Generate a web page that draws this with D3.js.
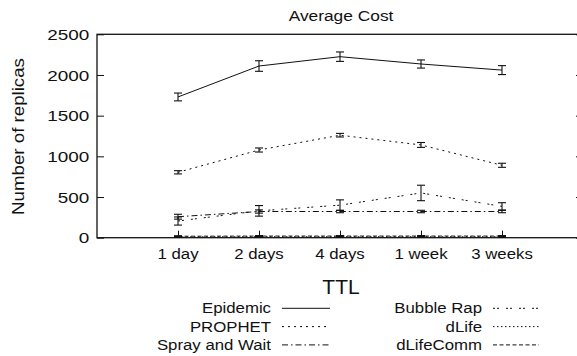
<!DOCTYPE html>
<html>
<head>
<meta charset="utf-8">
<script src="https://cdn.jsdelivr.net/npm/d3@7"></script>
<style>
  html, body { margin: 0; padding: 0; background: #fff; }
  svg { display: block; }
  text { font-family: "Liberation Sans", Arial, Helvetica, sans-serif; fill: #111; }
</style>
</head>
<body>
<svg id="chart" width="577" height="356"></svg>
<script>
// Categories (TTL) and y ticks
const ttl = ["1 day", "2 days", "4 days", "1 week", "3 weeks"];
const yTicks = [0, 500, 1000, 1500, 2000, 2500];

// Mean number of replicas per protocol
const epidemic     = [1730, 2110, 2225, 2135, 2060];
const prophet      = [804, 1078, 1260, 1140, 890];
const sprayAndWait = [258, 322, 322, 322, 322];
const bubbleRap    = [205, 330, 400, 550, 385];
const dLife        = [10, 12, 12, 12, 12];
const dLifeComm    = [18, 20, 20, 20, 20];

// Half-widths of the error bars
const epidemicErr     = [48, 65, 58, 50, 55];
const prophetErr      = [20, 25, 22, 30, 25];
const sprayAndWaitErr = [30, 20, 15, 15, 15];
const bubbleRapErr    = [50, 65, 65, 95, 45];
const dLifeErr        = [5, 5, 5, 5, 5];
const dLifeCommErr    = [6, 6, 6, 6, 6];

const series = [
  { name: "Epidemic",       values: epidemic,     err: epidemicErr,     dash: null },
  { name: "PROPHET",        values: prophet,      err: prophetErr,      dash: "2,4" },
  { name: "Spray and Wait", values: sprayAndWait, err: sprayAndWaitErr, dash: "6,3,1.5,3" },
  { name: "Bubble Rap",     values: bubbleRap,    err: bubbleRapErr,    dash: "2,2,2,7" },
  { name: "dLife",          values: dLife,        err: dLifeErr,        dash: "1.5,2.5" },
  { name: "dLifeComm",      values: dLifeComm,    err: dLifeCommErr,    dash: "4,2.5" }
];

const svg = d3.select("#chart");
const plotL = 97, plotR = 583, plotT = 34.3, plotB = 237.7;

const x = d3.scalePoint().domain(ttl).range([plotL, plotR]).padding(1);
const y = d3.scaleLinear().domain([0, 2500]).range([plotB, plotT]);

// Text with a horizontal glyph stretch (wide sans face)
function stretchedText(g, tx, ty, str, size, anchor, sx, rot) {
  return g.append("text")
    .attr("transform", `translate(${tx},${ty})` + (rot ? ` rotate(${rot})` : "") + ` scale(${sx},1)`)
    .attr("text-anchor", anchor)
    .style("font-size", size + "px")
    .text(str);
}

// Frame
svg.append("rect")
  .attr("x", plotL).attr("y", plotT)
  .attr("width", plotR - plotL).attr("height", plotB - plotT)
  .attr("fill", "none").attr("stroke", "#111").attr("stroke-width", 1.3);

// Y axis (left, inward ticks) and mirrored ticks on the right
const gy = svg.append("g").attr("transform", `translate(${plotL},0)`)
  .call(d3.axisLeft(y).tickValues(yTicks).tickSize(-7).tickFormat(""));
gy.select(".domain").remove();
gy.selectAll(".tick line").attr("stroke", "#111");
const gyr = svg.append("g").attr("transform", `translate(${plotR},0)`)
  .call(d3.axisRight(y).tickValues(yTicks).tickSize(-7).tickFormat(""));
gyr.select(".domain").remove();
gyr.selectAll(".tick line").attr("stroke", "#111");

yTicks.forEach(v => stretchedText(svg, 89.3, y(v) + 5.6, String(v), 15, "end", 1.26));

// X axis (bottom, inward ticks)
const gx = svg.append("g").attr("transform", `translate(0,${plotB})`)
  .call(d3.axisBottom(x).tickSize(-7).tickFormat(""));
gx.select(".domain").remove();
gx.selectAll(".tick line").attr("stroke", "#111");
ttl.forEach(c => stretchedText(svg, x(c), 258.5, c, 15, "middle", 1.12));

// Titles
stretchedText(svg, 341, 20.5, "Average Cost", 15.5, "middle", 1.12);
stretchedText(svg, 24, 136.5, "Number of replicas", 17, "middle", 1.1, -90);
svg.append("text").attr("x", 341).attr("y", 294).attr("text-anchor", "middle")
  .style("font-size", "21px").text("TTL");

// Lines and error bars
const line = d3.line().x((d, i) => x(ttl[i])).y(d => y(d));
series.forEach(s => {
  svg.append("path")
    .attr("d", line(s.values))
    .attr("fill", "none").attr("stroke", "#111").attr("stroke-width", 1)
    .attr("stroke-dasharray", s.dash);
  const eb = svg.append("g").attr("stroke", "#111").attr("stroke-width", 1.1);
  s.values.forEach((v, i) => {
    const cx = x(ttl[i]), y1 = y(v - s.err[i]), y2 = y(v + s.err[i]);
    eb.append("line").attr("x1", cx).attr("x2", cx).attr("y1", y1).attr("y2", y2);
    eb.append("line").attr("x1", cx - 4).attr("x2", cx + 4).attr("y1", y1).attr("y2", y1);
    eb.append("line").attr("x1", cx - 4).attr("x2", cx + 4).attr("y1", y2).attr("y2", y2);
  });
});

// Legend (two columns, three rows)
const legCols = [{ tx: 271, x1: 282, x2: 330 }, { tx: 482, x1: 493, x2: 539 }];
series.forEach((s, k) => {
  const col = legCols[Math.floor(k / 3)], row = k % 3;
  const by = 313.3 + row * 18.3;
  stretchedText(svg, col.tx, by, s.name, 15, "end", 1.12);
  svg.append("line")
    .attr("x1", col.x1).attr("x2", col.x2).attr("y1", by - 5).attr("y2", by - 5)
    .attr("stroke", "#111").attr("stroke-width", 1)
    .attr("stroke-dasharray", s.dash);
});
</script>
</body>
</html>
